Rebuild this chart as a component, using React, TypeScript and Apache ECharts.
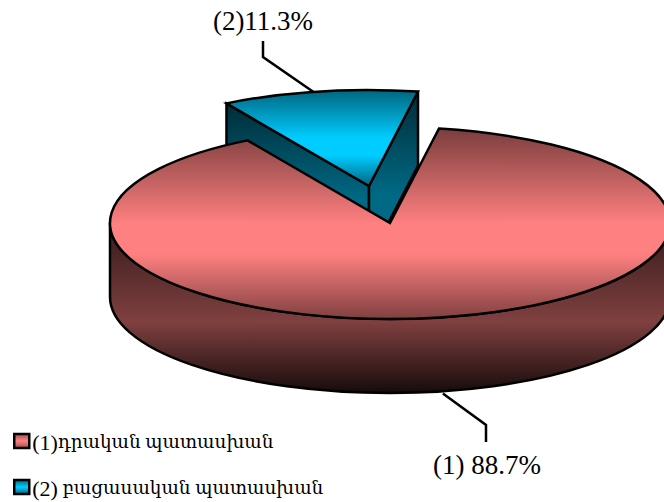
import React, { useEffect, useRef } from "react";
import * as echarts from "echarts";

const names = ["(1)դրական պատասխան", "(2) բացասական պատասխան"];
const values = [88.7, 11.3];
const labelPrefixes = ["(1) ", "(2)"];

const FONT = "'Liberation Serif', 'DejaVu Serif', serif";
const RX = 280, RY = 96, DEPTH = 74;
const CX = 390, CY = 223;
const BLUE_OFFSET = [-21, -37];
const BLUE_START = -30.6;
const LW = 2.5;

const grad = (stops: [number, string][]) =>
  new echarts.graphic.LinearGradient(0, 0, 0, 1, stops.map(([offset, color]) => ({ offset, color })));

const pt = (cx: number, cy: number, deg: number) => {
  const a = (deg * Math.PI) / 180;
  return [cx + RX * Math.sin(a), cy - RY * Math.cos(a)];
};

const wedge = (cx: number, cy: number, start: number, sweep: number) => {
  const s = pt(cx, cy, start), e = pt(cx, cy, start + sweep);
  return `M${cx} ${cy}L${s[0]} ${s[1]}A${RX} ${RY} 0 ${sweep > 180 ? 1 : 0} 1 ${e[0]} ${e[1]}Z`;
};

const common = { stroke: "#000", lineWidth: LW, lineJoin: "miter" };
const path = (d: string, fill: any) => ({
  type: "path",
  shape: { pathData: d },
  style: { ...common, fill },
});
const leader = (points: number[][]) => ({
  type: "polyline",
  shape: { points },
  style: { stroke: "#000", lineWidth: LW, fill: "none" },
});
const label = (x: number, y: number, text: string) => ({
  type: "text",
  x,
  y,
  style: { text, fontFamily: FONT, fontSize: 27, fill: "#000", align: "center", verticalAlign: "middle" },
});

const sweepOf = (v: number) => (v / (values[0] + values[1])) * 360;

const renderBlue = (_: any, api: any) => {
  const sweep = sweepOf(api.value(0));
  const cx = CX + BLUE_OFFSET[0], cy = CY + BLUE_OFFSET[1];
  const s = pt(cx, cy, BLUE_START), e = pt(cx, cy, BLUE_START + sweep);
  const wallFill = grad([[0, "#002c38"], [0.62, "#006a85"], [1, "#006a85"]]);
  const mid = pt(cx, cy, BLUE_START + sweep / 2);
  const wall = (p: number[]) =>
    `M${p[0]} ${p[1]}L${cx} ${cy}L${cx} ${cy + DEPTH}L${p[0]} ${p[1] + DEPTH}Z`;
  return {
    type: "group",
    children: [
      leader([[mid[0] - 2, mid[1] + 3], [263, 57], [263, 41]]),
      path(wall(s), wallFill),
      path(wall(e), wallFill),
      path(wedge(cx, cy, BLUE_START, sweep), grad([[0, "#006680"], [0.5, "#00ccff"], [0.68, "#00ccff"], [1, "#006680"]])),
      label(263, 21, labelPrefixes[1] + api.value(0) + "%"),
    ],
  };
};

const renderMain = (_: any, api: any) => {
  const sweep = sweepOf(api.value(0));
  const start = BLUE_START + sweepOf(values[1]);
  const mid = pt(CX, CY + DEPTH, start + sweep / 2);
  const side = `M${CX - RX} ${CY}A${RX} ${RY} 0 0 0 ${CX + RX} ${CY}L${CX + RX} ${CY + DEPTH}A${RX} ${RY} 0 0 1 ${CX - RX} ${CY + DEPTH}Z`;
  return {
    type: "group",
    children: [
      leader([[mid[0] + 3, mid[1] + 2], [486, 425], [486, 442]]),
      path(side, grad([[0, "#341a1a"], [0.58, "#804040"], [1, "#170b0b"]])),
      path(wedge(CX, CY, start, sweep), grad([[0, "#7a3d3d"], [0.5, "#ff8080"], [0.66, "#ff8080"], [1, "#804040"]])),
      label(487, 465, labelPrefixes[0] + api.value(0) + "%"),
    ],
  };
};

const legendFormatter = (name: string) => {
  const i = name.indexOf(")") + 1;
  return `{a|${name.slice(0, i)}}{b|${name.slice(i)}}`;
};

export default function App() {
  const ref = useRef<HTMLDivElement>(null);
  useEffect(() => {
    document.body.style.margin = "0";
    const chart = echarts.init(ref.current!, null, { renderer: "svg" });
    const swatch = (c: string, d: string) => ({
      color: grad([[0, d], [0.5, c], [1, d]]),
      borderColor: "#000",
      borderWidth: 2.5,
      borderRadius: 2,
    });
    chart.setOption({
      animation: false,
      backgroundColor: "#fff",
      legend: {
        orient: "vertical",
        left: 13,
        top: 431,
        itemWidth: 15,
        itemHeight: 14,
        itemGap: 24,
        padding: 0,
        selectedMode: false,
        icon: "rect",
        formatter: legendFormatter,
        textStyle: {
          fontFamily: FONT,
          color: "#000",
          padding: [2, 0, 0, -2],
          rich: {
            a: { fontFamily: FONT, fontSize: 22, color: "#000", height: 24 },
            b: { fontFamily: FONT, fontSize: 18.4, color: "#000", height: 24 },
          },
        },
        data: [
          { name: names[0], itemStyle: swatch("#ff8080", "#a05050") },
          { name: names[1], itemStyle: swatch("#00ccff", "#006680") },
        ],
      },
      series: [
        { type: "custom", name: names[1], coordinateSystem: "none", renderItem: renderBlue, data: [[values[1]]], silent: true },
        { type: "custom", name: names[0], coordinateSystem: "none", renderItem: renderMain, data: [[values[0]]], silent: true },
      ],
    });
    return () => chart.dispose();
  }, []);
  return <div ref={ref} style={{ width: 664, height: 502 }} />;
}
